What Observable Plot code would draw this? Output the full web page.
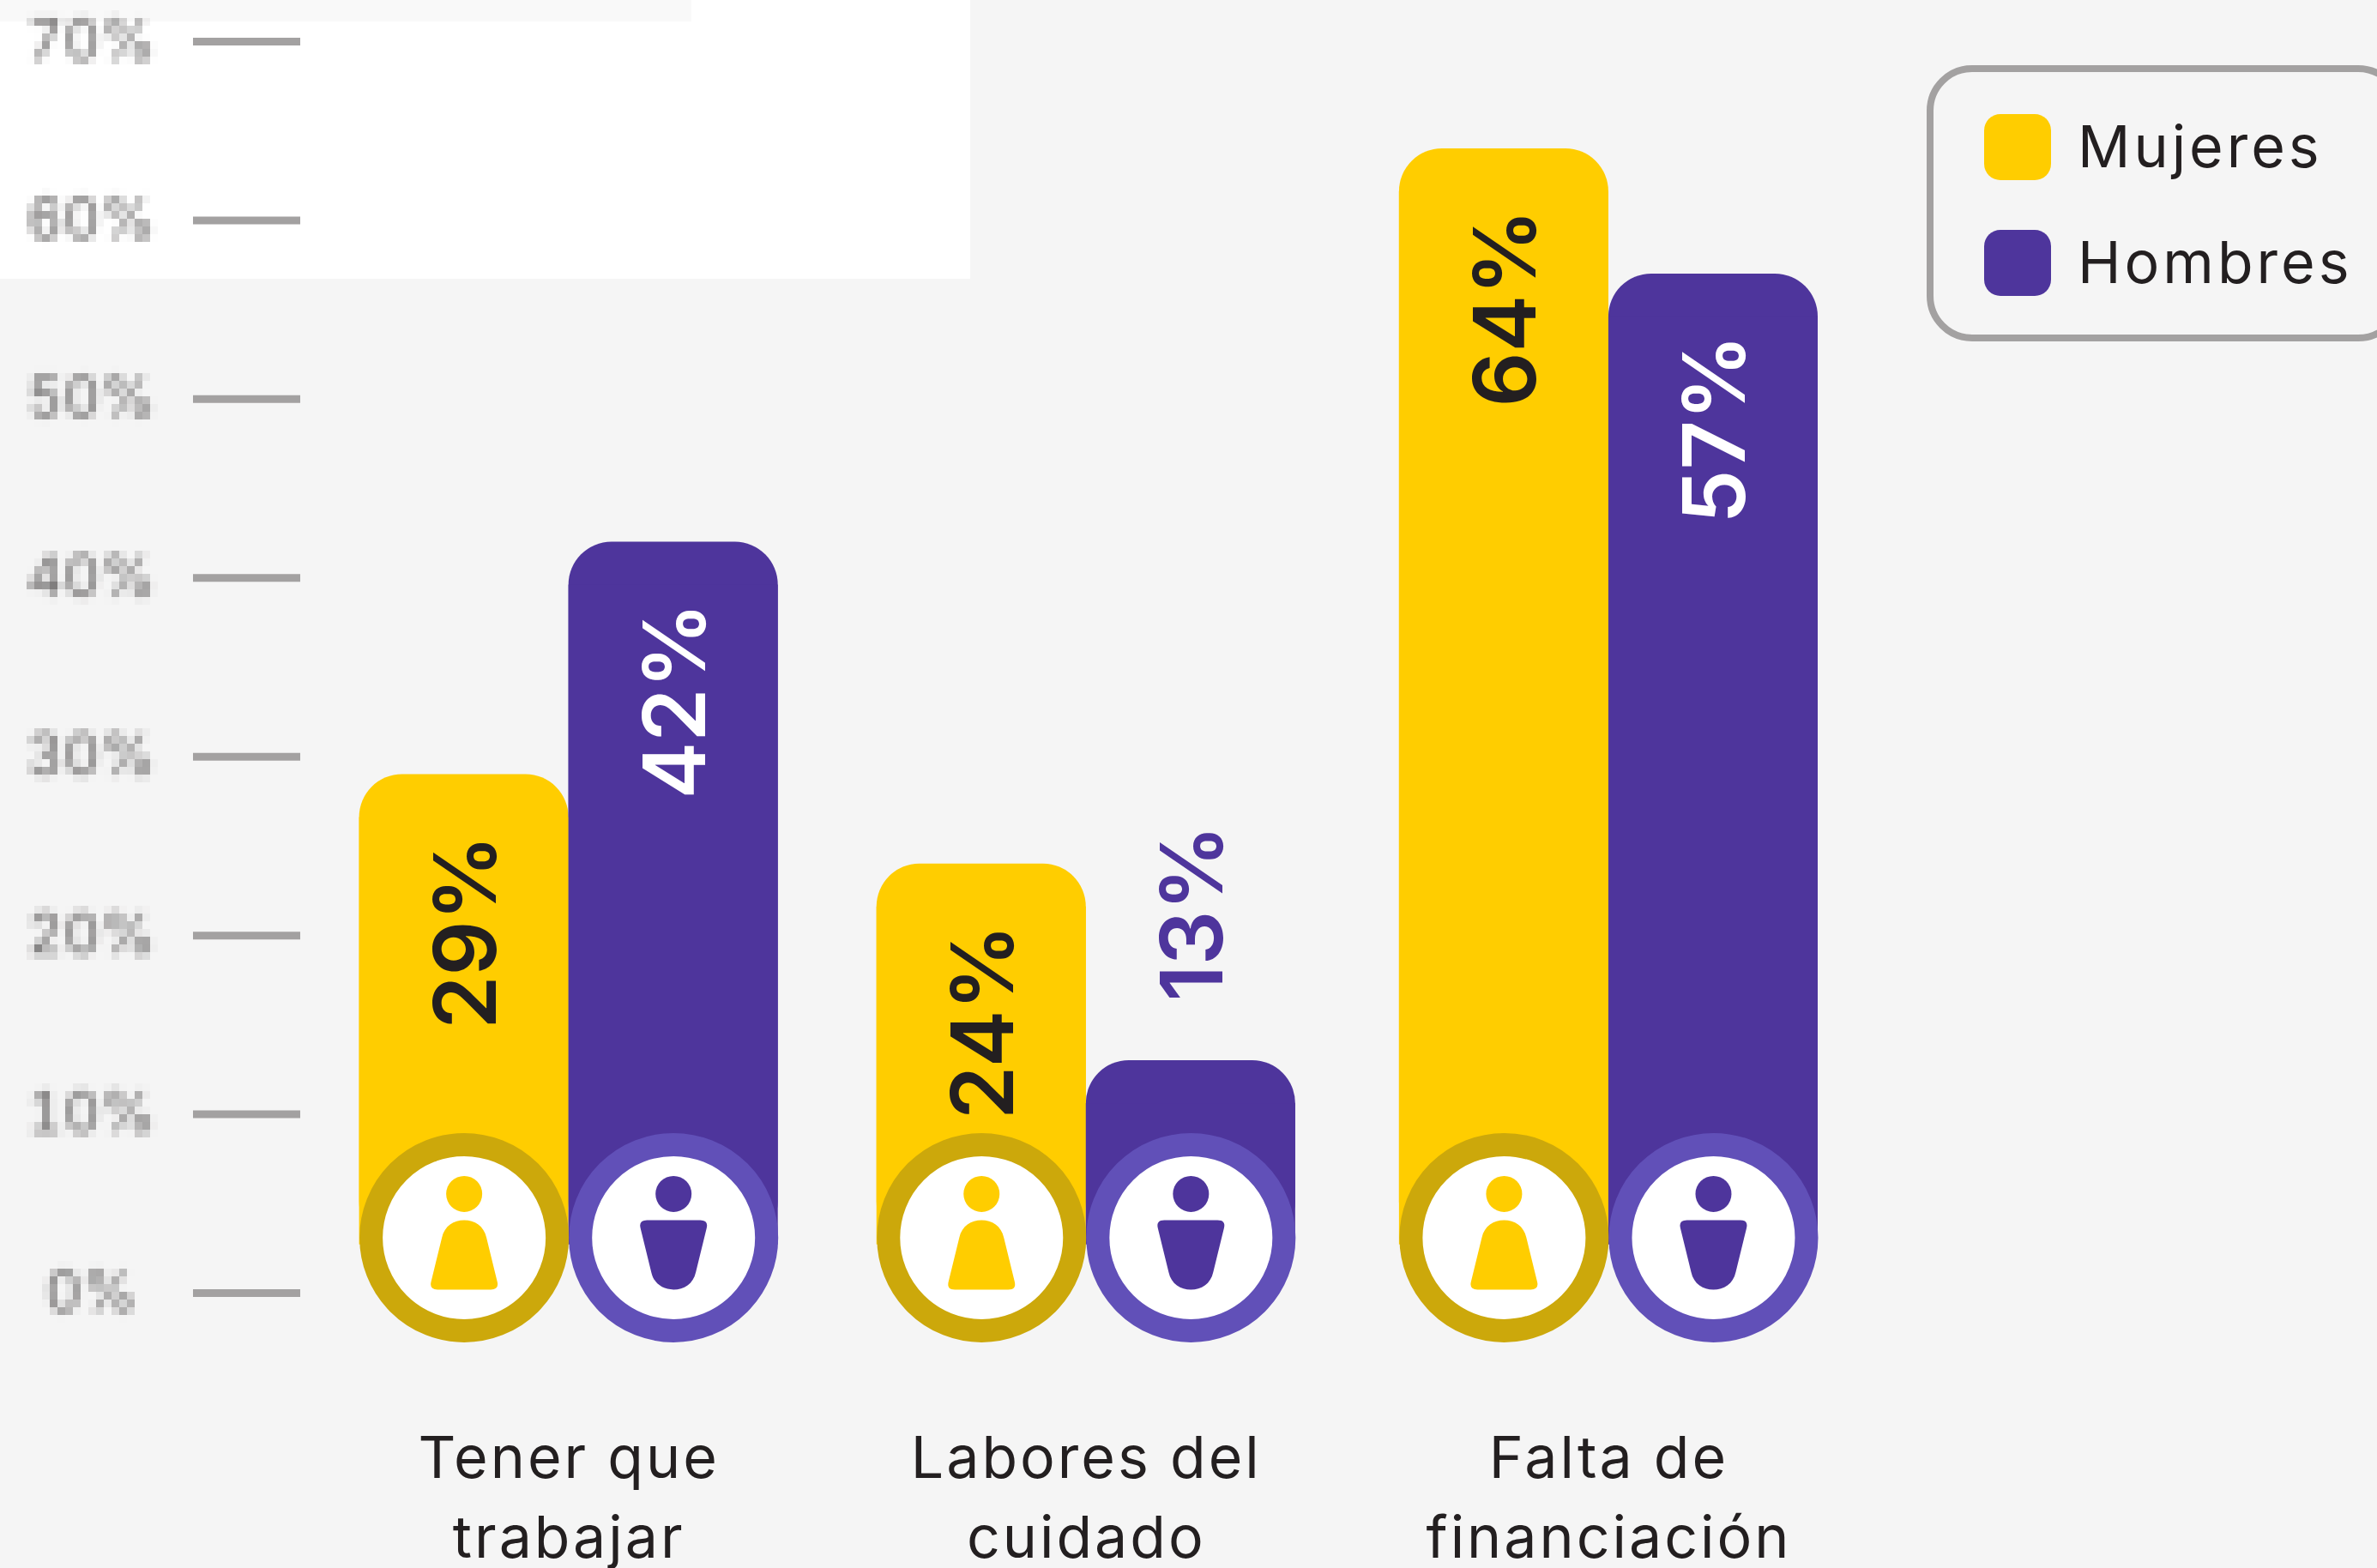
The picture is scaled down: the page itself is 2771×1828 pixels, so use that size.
<!DOCTYPE html>
<html lang="es">
<head>
<meta charset="utf-8">
<script src="https://cdn.jsdelivr.net/npm/d3@7"></script>
<script src="https://cdn.jsdelivr.net/npm/@observablehq/plot@0.6"></script>
<style>
html,body{margin:0;padding:0;background:#f5f5f5;width:2771px;height:1828px;overflow:hidden}
#wrap{position:relative;width:2771px;height:1828px;font-family:Inter,sans-serif;color:#231f20}
.patch{position:absolute;left:0;top:0}
#chart{position:absolute;left:0;top:0}
#chart svg{background:transparent;display:block}
g[aria-label="y-axis tick label"]{filter:url(#mosaic)}
g[aria-label="y-axis tick label"], g[aria-label="y-axis tick label"] text{text-anchor:middle}
.catlabel text, g.catlabel{letter-spacing:3px}
#legend{position:absolute;left:2246px;top:76px;width:556px;height:322px;box-sizing:border-box;border:8.5px solid #a3a1a1;border-radius:53px}
.sw{position:absolute;left:58.5px;width:78px;height:77px;border-radius:19px}
.lb{position:absolute;left:168px;font-size:68px;line-height:68px;white-space:nowrap;letter-spacing:4px}
</style>
</head>
<body>
<svg width="0" height="0" style="position:absolute">
  <filter id="mosaic" filterUnits="userSpaceOnUse" x="-300" y="-20" width="1000" height="1800" color-interpolation-filters="sRGB">
    <feGaussianBlur in="SourceGraphic" stdDeviation="3" result="soft"/>
    <feFlood x="-300" y="-20" width="1" height="1" flood-color="#000" result="dot"/>
    <feComposite in="dot" in2="dot" operator="over" x="-300" y="-20" width="9" height="9" result="cell"/>
    <feTile in="cell" result="grid"/>
    <feComposite in="soft" in2="grid" operator="in" result="samples"/>
    <feMorphology in="samples" operator="dilate" radius="4"/>
  </filter>
</svg>
<div id="wrap">
  <div class="patch" style="width:1131px;height:325px;background:#fff"></div>
  <div class="patch" style="width:806px;height:25px;background:#f9f9f9"></div>
  <div id="chart"></div>
  <div id="legend"></div>
</div>
<script>
const categories = ["Tener que\ntrabajar", "Labores del\ncuidado", "Falta de\nfinanciación"];
const seriesNames = ["Mujeres", "Hombres"];
const mujeres = [29, 24, 64];
const hombres = [42, 13, 57];
const yTicks = [0, 10, 20, 30, 40, 50, 60, 70];
const barColors = ["#ffcd00", "#4e359c"];
const ringColors = ["#cca80b", "#6150b8"];
const labelColors = ["#231f20", "#ffffff"];
const groupShift = [0, -3, 0];
const barBase = 2.7;
const iconCentre = 3.1;
const cornerUnits = 2.4;

const rows = categories.flatMap((category, i) => [
  {category, series: "Mujeres", value: mujeres[i], iconCentre, ring: ringColors[0], label: labelColors[0]},
  {category, series: "Hombres", value: hombres[i], iconCentre, ring: ringColors[1], label: labelColors[1]}
]);

const headSymbol = {draw(c, size) { const r = Math.sqrt(size / Math.PI); c.moveTo(r, 0); c.arc(0, 0, r, 0, 2 * Math.PI); c.closePath(); }};
function bodyPath(c, s) {
  c.moveTo(-26, s * -20);
  c.bezierCurveTo(-23, s * -34, -12, s * -40.5, 0, s * -40.5);
  c.bezierCurveTo(12, s * -40.5, 23, s * -34, 26, s * -20);
  c.lineTo(38.5, s * 31);
  c.quadraticCurveTo(41, s * 40.5, 31, s * 40.5);
  c.lineTo(-31, s * 40.5);
  c.quadraticCurveTo(-41, s * 40.5, -38.5, s * 31);
  c.closePath();
}
const womanBody = {draw(c) { bodyPath(c, 1); }};
const manBody = {draw(c) { bodyPath(c, -1); }};

const groupMarks = categories.flatMap((category, i) => {
  const dx = groupShift[i];
  const group = rows.filter(d => d.category === category);
  const at = {fx: "category", x: "series"};
  const valueText = {...at, y: "value", text: d => d.value + "%", rotate: -90, fontSize: 100, fontWeight: 600, dx: dx + 5};
  return [
    Plot.text([category], {fx: d => d, text: d => d, frameAnchor: "bottom", lineAnchor: "top", dx, fontSize: 68, lineHeight: 1.36, fill: "#231f20", className: "catlabel"}),
    Plot.barY(group, {...at, y1: () => barBase, y2: "value", fill: "series", rx: 50, ry: 50, dx}),
    Plot.barY(group, {...at, y1: () => barBase, y2: d => d.value - cornerUnits, fill: "series", dx}),
    Plot.text(group.filter(d => d.value >= 20), {...valueText, textAnchor: "end", dy: 70, fill: {value: "label", scale: null}}),
    Plot.text(group.filter(d => d.value < 20), {...valueText, textAnchor: "start", dy: -69, fill: barColors[1]}),
    Plot.dot(group, {...at, y: "iconCentre", r: 108.5, dx, fill: "#ffffff", stroke: {value: "ring", scale: null}, strokeWidth: 27}),
    Plot.dot(group, {...at, y: "iconCentre", r: 21, dx, dy: -51, symbol: headSymbol, fill: "series"}),
    Plot.dot(group.filter(d => d.series === "Mujeres"), {...at, y: "iconCentre", dx, dy: 20, r: 40, symbol: womanBody, fill: "series"}),
    Plot.dot(group.filter(d => d.series === "Hombres"), {...at, y: "iconCentre", dx, dy: 20, r: 40, symbol: manBody, fill: "series"})
  ];
});

const chart = Plot.plot({
  width: 2771,
  height: 1828,
  marginLeft: 418.6,
  marginRight: 652,
  marginTop: 0,
  marginBottom: 171,
  style: {background: "transparent", fontFamily: "Inter, sans-serif"},
  fx: {domain: categories, range: [418.6, 2119], paddingInner: 0.1947, paddingOuter: 0, round: false, axis: null},
  x: {domain: seriesNames, padding: 0, round: false, axis: null},
  y: {domain: [0, 70], range: [1507, 48], axis: null},
  color: {domain: seriesNames, range: barColors},
  marks: [
    Plot.axisY(yTicks, {
      anchor: "left", facetAnchor: "left", dx: -68.6, label: null, tickSize: 125, tickPadding: 119,
      tickFormat: d => d + "%", fontSize: 66, fill: "#666464", stroke: "#a3a1a1", strokeWidth: 9, fontWeight: 400
    }),
    ...groupMarks
  ]
});
document.getElementById("chart").appendChild(chart);

const legend = document.getElementById("legend");
seriesNames.forEach((name, i) => {
  const sw = document.createElement("div");
  sw.className = "sw";
  sw.style.top = (48.5 + i * 135) + "px";
  sw.style.background = barColors[i];
  legend.appendChild(sw);
  const lb = document.createElement("div");
  lb.className = "lb";
  lb.textContent = name;
  lb.style.top = (52 + i * 135) + "px";
  legend.appendChild(lb);
});
</script>
</body>
</html>
